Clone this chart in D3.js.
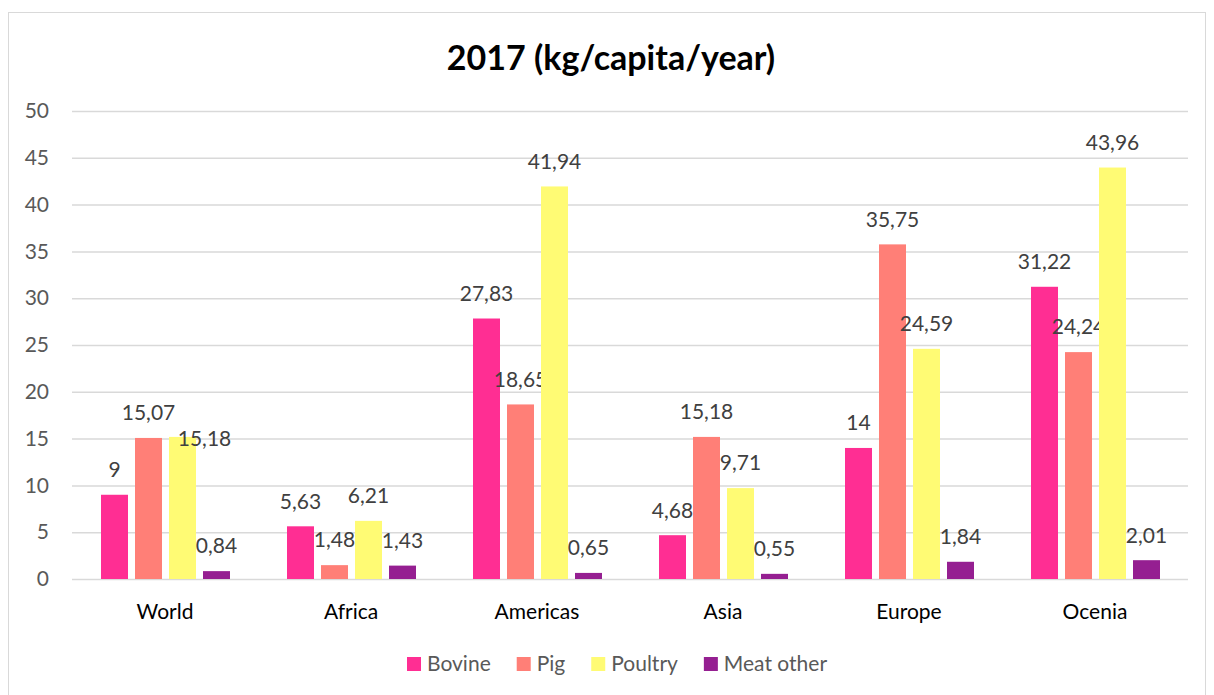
<!DOCTYPE html>
<html>
<head>
<meta charset="utf-8">
<script src="https://cdn.jsdelivr.net/npm/d3@7"></script>
<style>
  html, body { margin: 0; padding: 0; background: #fff; }
  svg { display: block; font-family: Lato, "Open Sans", sans-serif; }
</style>
</head>
<body>
<svg id="chart" width="1214" height="695"></svg>
<script>
// Meat consumption per region, 2017 (kg/capita/year)
const regions = ["World", "Africa", "Americas", "Asia", "Europe", "Ocenia"];
const seriesNames = ["Bovine", "Pig", "Poultry", "Meat other"];
const bovine    = [9, 5.63, 27.83, 4.68, 14, 31.22];
const pig       = [15.07, 1.48, 18.65, 15.18, 35.75, 24.24];
const poultry   = [15.18, 6.21, 41.94, 9.71, 24.59, 43.96];
const meatOther = [0.84, 1.43, 0.65, 0.55, 1.84, 2.01];
const yTicks    = [0, 5, 10, 15, 20, 25, 30, 35, 40, 45, 50];

const seriesValues = [bovine, pig, poultry, meatOther];
const colors = ["#FF2E93", "#FF7F77", "#FFFB74", "#951F91"];

// Label nudges for labels that would collide with a neighbour
const labelNudge = { "World|Poultry": [22, 27] };

const svg = d3.select("#chart");
const plot = { left: 72, right: 1188, top: 111, bottom: 579 };
const FONT = 21;

// Outer frame
svg.append("rect")
  .attr("x", 8.5).attr("y", 12.5)
  .attr("width", 1197).attr("height", 700)
  .attr("fill", "#fff").attr("stroke", "#d9d9d9").attr("stroke-width", 1);

// Title
svg.append("text")
  .attr("x", 611).attr("y", 70)
  .attr("text-anchor", "middle")
  .attr("font-size", 34).attr("font-weight", "bold").attr("fill", "#000")
  .text("2017 (kg/capita/year)");

const y = d3.scaleLinear().domain([0, 50]).range([plot.bottom, plot.top]);
const x0 = d3.scaleBand().domain(regions).range([plot.left, plot.right]).padding(0);
const x1 = d3.scaleBand().domain(seriesNames)
  .range([29, x0.bandwidth() - 28]).paddingInner(7 / 34).paddingOuter(0);

// Gridlines + y tick labels
const yAxis = d3.axisLeft(y).tickValues(yTicks)
  .tickSize(-(plot.right - plot.left)).tickPadding(23).tickFormat(d3.format("d"));
const gy = svg.append("g").attr("transform", `translate(${plot.left},0)`).call(yAxis);
gy.select(".domain").remove();
gy.selectAll(".tick line").attr("stroke", "#d9d9d9").attr("stroke-width", 1.5);
gy.selectAll(".tick text").attr("fill", "#595959").attr("font-size", FONT)
  .attr("font-family", "Lato, 'Open Sans', sans-serif");

// Category axis labels
const xAxis = d3.axisBottom(x0).tickSize(0).tickPadding(25);
const gx = svg.append("g").attr("transform", `translate(0,${plot.bottom})`).call(xAxis);
gx.select(".domain").remove();
gx.selectAll(".tick text").attr("fill", "#000").attr("font-size", FONT)
  .attr("font-family", "Lato, 'Open Sans', sans-serif");

// Bars
const fmt = v => String(v).replace(".", ",");
const groups = svg.append("g").selectAll("g")
  .data(regions).join("g")
  .attr("transform", d => `translate(${x0(d)},0)`);

groups.each(function (region, ri) {
  const g = d3.select(this);
  seriesNames.forEach((s, si) => {
    const v = seriesValues[si][ri];
    g.append("rect")
      .attr("x", x1(s)).attr("width", x1.bandwidth())
      .attr("y", y(v)).attr("height", y(0) - y(v))
      .attr("fill", colors[si]);
    const nudge = labelNudge[region + "|" + s] || [0, 0];
    g.append("text")
      .attr("x", x1(s) + x1.bandwidth() / 2 + nudge[0])
      .attr("y", y(v) - 25 + nudge[1])
      .attr("dy", "0.35em")
      .attr("text-anchor", "middle")
      .attr("font-size", FONT).attr("fill", "#404040")
      .text(fmt(v));
  });
});

// Legend
const legend = svg.append("g").attr("transform", "translate(407,664)");
let lx = 0;
seriesNames.forEach((s, i) => {
  const item = legend.append("g").attr("transform", `translate(${lx},0)`);
  item.append("rect").attr("x", 0).attr("y", -7).attr("width", 14).attr("height", 14)
    .attr("fill", colors[i]);
  const t = item.append("text").attr("x", 20).attr("y", 0).attr("dy", "0.35em")
    .attr("font-size", FONT).attr("fill", "#595959").text(s);
  lx += 20 + t.node().getComputedTextLength() + 26;
});
</script>
</body>
</html>
